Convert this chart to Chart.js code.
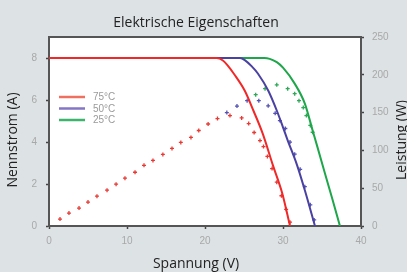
<!DOCTYPE html>
<html>
<head>
<meta charset="utf-8">
<script src="https://cdn.jsdelivr.net/npm/chart.js@4.4.1/dist/chart.umd.min.js"></script>
<style>
  html, body { margin: 0; padding: 0; background: #dde2e5; }
  #c { display: block; }
</style>
</head>
<body>
<canvas id="c" width="407" height="272"></canvas>
<script>
// ---- data ----
const xTicks = [0, 10, 20, 30, 40];
const leftTicks = [0, 2, 4, 6, 8];
const rightTicks = [0, 50, 100, 150, 200, 250];
const legendLabels = ['75°C', '50°C', '25°C'];

// I-V curves: voltage (V) and current (A)
const iv75V = [0, 21.5, 22.3, 23.0, 23.7, 25.1, 26.2, 27.4, 28.7, 29.9, 30.9];
const iv75I = [8, 8, 7.88, 7.6, 7.25, 6.44, 5.5, 4.4, 2.9, 1.56, 0];
const iv50V = [0, 24.5, 25.1, 26.0, 26.8, 28.1, 29.2, 30.0, 30.6, 31.8, 32.8, 34.1];
const iv50I = [8, 8, 7.9, 7.6, 7.25, 6.45, 5.5, 4.7, 4.08, 2.9, 1.7, 0];
const iv25V = [0, 27.6, 28.3, 29.2, 30.0, 31.5, 32.8, 33.8, 34.4, 35.4, 36.3, 37.3];
const iv25I = [8, 8, 7.96, 7.8, 7.54, 6.78, 5.83, 4.55, 3.78, 2.48, 1.32, 0];

// Power points: voltage (V) and power (W)
const p75V = [1.41, 2.56, 3.85, 5.0, 6.15, 7.44, 8.6, 9.74, 11.03, 12.18, 13.33, 14.6, 15.77, 16.9, 18.2, 19.2, 20.4, 21.6,
              23.2, 24.7, 25.6, 26.3, 27.05, 27.5, 28.0, 28.6, 29.2, 29.8, 30.4, 30.9];
const p75P = [9.2, 17.1, 23.7, 31.6, 39.5, 47.4, 55.3, 63.2, 71.1, 80.3, 86.8, 94.7, 102.6, 110.5, 117.1, 126.3, 134.9, 142.1,
              146, 143, 135.5, 123.7, 113, 105, 92, 76, 58, 40, 22, 5];
const p50V = [22.8, 24.1, 25.4, 26.9, 28.1, 29.0, 29.6, 30.3, 30.9, 31.5, 32.2, 32.8, 33.5, 34.0];
const p50P = [150, 158.6, 165.8, 165.8, 159, 149, 139.5, 129, 111, 95, 75, 52, 28, 8];
const p25V = [26.5, 27.7, 29.2, 30.6, 31.5, 32.05, 32.6, 33.0, 33.5, 33.8];
const p25P = [173.7, 181.6, 186.8, 181.6, 175, 165.8, 156.6, 146, 133, 124];

const toXY = (xs, ys) => xs.map((x, i) => ({ x: x, y: ys[i] }));

// ---- styles ----
const lineColors = ['#f02828', '#4a42a2', '#1ea64a'];
const markColors = ['#e83a34', '#5552b2', '#2fa858'];
const legendColors = ['#f07060', '#8476c4', '#3db46c'];

const decor = {
  id: 'decor',
  beforeDraw(chart) {
    const { ctx, chartArea: a } = chart;
    ctx.save();
    ctx.fillStyle = '#dde2e5';
    ctx.fillRect(0, 0, chart.width, chart.height);
    ctx.fillStyle = '#ffffff';
    ctx.fillRect(a.left, a.top, a.right - a.left, a.bottom - a.top);
    ctx.restore();
  },
  afterDraw(chart) {
    const { ctx, chartArea: a } = chart;
    ctx.save();
    ctx.strokeStyle = '#555';
    ctx.lineWidth = 2;
    ctx.beginPath();
    ctx.moveTo(a.left - 1, a.top);
    ctx.lineTo(a.right + 1, a.top);
    ctx.stroke();
    ctx.fillStyle = '#222';
    ctx.font = '14px "Open Sans"';
    ctx.textAlign = 'center';
    ctx.textBaseline = 'alphabetic';
    ctx.fillText('Elektrische Eigenschaften', 196, 26.5);
    ctx.fillText('Spannung (V)', 196, 267.5);
    ctx.save();
    ctx.translate(16.5, 140);
    ctx.rotate(-Math.PI / 2);
    ctx.fillText('Nennstrom (A)', 0, 0);
    ctx.restore();
    ctx.save();
    ctx.translate(405.5, 140);
    ctx.rotate(-Math.PI / 2);
    ctx.fillText('Leistung (W)', 0, 0);
    ctx.restore();
    const rows = [97, 108.5, 120];
    ctx.font = '10px "Liberation Sans"';
    ctx.textAlign = 'left';
    ctx.textBaseline = 'middle';
    legendLabels.forEach((lab, i) => {
      ctx.strokeStyle = legendColors[i];
      ctx.lineWidth = 2.5;
      ctx.beginPath();
      ctx.moveTo(59, rows[i]);
      ctx.lineTo(85, rows[i]);
      ctx.stroke();
      ctx.fillStyle = '#9a9a9a';
      ctx.fillText(lab, 93, rows[i] + 0.5);
    });
    ctx.restore();
  }
};

const tickFont = { family: '"Liberation Sans"', size: 10 };
const tickColor = '#a8a8a8';

function ivDataset(i, xs, ys, order) {
  return {
    type: 'line', label: 'IV ' + legendLabels[i], data: toXY(xs, ys), yAxisID: 'y',
    borderColor: lineColors[i], borderWidth: 2, pointRadius: 0, fill: false,
    cubicInterpolationMode: 'monotone', order: order
  };
}
function pDataset(i, xs, ys, order) {
  return {
    type: 'scatter', label: 'P ' + legendLabels[i], data: toXY(xs, ys), yAxisID: 'y1',
    borderColor: markColors[i], backgroundColor: markColors[i], pointStyle: 'cross',
    pointRadius: 2, borderWidth: 1.3, showLine: false, order: order
  };
}

new Chart(document.getElementById('c'), {
  data: {
    datasets: [
      ivDataset(0, iv75V, iv75I, 1),
      pDataset(0, p75V, p75P, 2),
      ivDataset(1, iv50V, iv50I, 3),
      pDataset(1, p50V, p50P, 4),
      ivDataset(2, iv25V, iv25I, 5),
      pDataset(2, p25V, p25P, 6)
    ]
  },
  options: {
    responsive: false,
    animation: false,
    devicePixelRatio: 1,
    layout: { padding: { top: 37, left: 0, right: 0, bottom: 0 } },
    plugins: { legend: { display: false }, title: { display: false }, tooltip: { enabled: false } },
    scales: {
      x: {
        type: 'linear', min: 0, max: 40,
        afterBuildTicks: s => { s.ticks = xTicks.map(v => ({ value: v })); },
        afterFit: s => { s.height = 46; },
        ticks: { font: tickFont, color: tickColor, padding: 6, maxRotation: 0 },
        grid: { drawOnChartArea: false, drawTicks: true, tickLength: 3, tickColor: '#444', tickWidth: 1.5 },
        border: { display: true, color: '#555', width: 2 }
      },
      y: {
        type: 'linear', position: 'left', min: 0, max: 9,
        afterBuildTicks: s => { s.ticks = leftTicks.map(v => ({ value: v })); },
        afterFit: s => { s.width = 49; },
        ticks: { font: tickFont, color: tickColor, padding: 9 },
        grid: { drawOnChartArea: false, drawTicks: true, tickLength: 3, tickColor: '#444', tickWidth: 1.5 },
        border: { display: true, color: '#555', width: 2 }
      },
      y1: {
        type: 'linear', position: 'right', min: 0, max: 250,
        afterBuildTicks: s => { s.ticks = rightTicks.map(v => ({ value: v })); },
        afterFit: s => { s.width = 46; },
        ticks: { font: tickFont, color: tickColor, padding: 8 },
        grid: { drawOnChartArea: false, drawTicks: true, tickLength: 3, tickColor: '#444', tickWidth: 1.5 },
        border: { display: true, color: '#555', width: 2 }
      }
    }
  },
  plugins: [decor]
});
</script>
</body>
</html>
